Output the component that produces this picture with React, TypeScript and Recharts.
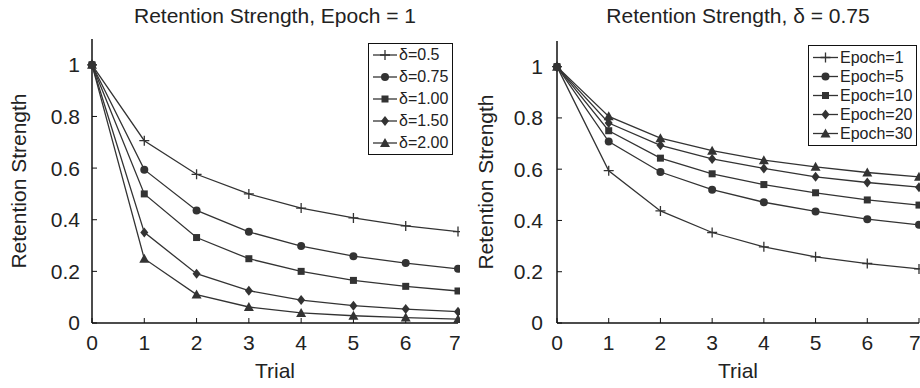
import { Line, LineChart, XAxis, YAxis } from "recharts";

const trials = [0, 1, 2, 3, 4, 5, 6, 7];
const xTicks = [0, 1, 2, 3, 4, 5, 6, 7];
const yTicks = [0, 0.2, 0.4, 0.6, 0.8, 1];
const markerShapes = ["plus", "circle", "square", "diamond", "triangle"];

// left panel: epoch = 1, varying delta
const deltaLabels = ["δ=0.5", "δ=0.75", "δ=1.00", "δ=1.50", "δ=2.00"];
const delta050 = [1, 0.706, 0.576, 0.5, 0.445, 0.407, 0.376, 0.354];
const delta075 = [1, 0.594, 0.436, 0.353, 0.298, 0.259, 0.232, 0.21];
const delta100 = [1, 0.5, 0.331, 0.249, 0.2, 0.165, 0.142, 0.124];
const delta150 = [1, 0.351, 0.191, 0.125, 0.089, 0.067, 0.054, 0.044];
const delta200 = [1, 0.249, 0.11, 0.062, 0.039, 0.028, 0.021, 0.015];

// right panel: delta = 0.75, varying epoch
const epochLabels = ["Epoch=1", "Epoch=5", "Epoch=10", "Epoch=20", "Epoch=30"];
const epoch1 = [1, 0.594, 0.437, 0.353, 0.297, 0.258, 0.232, 0.211];
const epoch5 = [1, 0.708, 0.589, 0.52, 0.471, 0.435, 0.405, 0.383];
const epoch10 = [1, 0.75, 0.643, 0.582, 0.54, 0.508, 0.48, 0.46];
const epoch20 = [1, 0.78, 0.693, 0.64, 0.603, 0.57, 0.548, 0.53];
const epoch30 = [1, 0.806, 0.721, 0.672, 0.635, 0.609, 0.587, 0.57];

const FONT = "'Liberation Sans', Arial, sans-serif";
const INK = "#333";

function buildRows(series: number[][]) {
  return trials.map((t, i) => {
    const row: Record<string, number> = { trial: t };
    series.forEach((s, k) => (row[`s${k}`] = s[i]));
    return row;
  });
}

function Marker({ shape, cx, cy }: { shape: string; cx: number; cy: number }) {
  switch (shape) {
    case "plus":
      return <path d={`M${cx - 5},${cy}H${cx + 5}M${cx},${cy - 5}V${cy + 5}`} stroke={INK} strokeWidth={1.3} fill="none" />;
    case "circle":
      return <circle cx={cx} cy={cy} r={4} fill={INK} />;
    case "square":
      return <rect x={cx - 3.5} y={cy - 3.5} width={7} height={7} fill={INK} />;
    case "diamond":
      return <path d={`M${cx},${cy - 5}L${cx + 4},${cy}L${cx},${cy + 5}L${cx - 4},${cy}Z`} fill={INK} />;
    default:
      return <path d={`M${cx},${cy - 5}L${cx + 5},${cy + 4}L${cx - 5},${cy + 4}Z`} fill={INK} />;
  }
}

type PanelProps = {
  title: string;
  labels: string[];
  series: number[][];
  left: number;
  top: number;
  axisWidth: number;
  right: number;
  yLabelOffset: number;
  yTickMargin: number;
  legend: { left: number; top: number; width: number; row: number; pad: number; sample: number };
};

function Panel({ title, labels, series, left, top, axisWidth, right, yLabelOffset, yTickMargin, legend }: PanelProps) {
  const rows = buildRows(series);
  const plotCenter = axisWidth + (460 - axisWidth - right) / 2;
  return (
    <div style={{ position: "absolute", left, top: 0, width: 460, height: 388, fontFamily: FONT }}>
      <div
        style={{
          position: "absolute",
          top: 5,
          left: plotCenter - 200,
          width: 400,
          textAlign: "center",
          fontSize: 21,
          lineHeight: "21px",
          color: "#222",
        }}
      >
        {title}
      </div>
      <LineChart width={460} height={388} data={rows} margin={{ top, right, bottom: 0, left: 0 }}>
        <XAxis
          dataKey="trial"
          type="number"
          domain={[0, 7]}
          ticks={xTicks}
          height={65}
          tickSize={-5}
          tickMargin={17}
          axisLine={{ stroke: "#111", strokeWidth: 1.5 }}
          tickLine={{ stroke: "#111" }}
          tick={{ fill: "#222", fontSize: 21, fontFamily: FONT }}
          label={{ value: "Trial", position: "insideBottom", offset: 10, fill: "#222", fontSize: 21, fontFamily: FONT }}
        />
        <XAxis
          xAxisId="top"
          orientation="top"
          type="number"
          domain={[0, 7]}
          allowDataOverflow
          ticks={xTicks}
          height={0}
          tickSize={-5}
          axisLine={{ stroke: "#111", strokeWidth: 1.5 }}
          tickLine={{ stroke: "#111" }}
          tick={false}
        />
        <YAxis
          type="number"
          domain={[0, 1.1]}
          allowDataOverflow
          ticks={yTicks}
          width={axisWidth}
          tickSize={-5}
          tickMargin={yTickMargin}
          axisLine={{ stroke: "#111", strokeWidth: 1.5 }}
          tickLine={{ stroke: "#111" }}
          tick={{ fill: "#222", fontSize: 21, fontFamily: FONT }}
          label={{
            value: "Retention Strength",
            angle: -90,
            position: "insideLeft",
            offset: yLabelOffset,
            fill: "#222",
            fontSize: 21,
            fontFamily: FONT,
            style: { textAnchor: "middle" },
          }}
        />
        <YAxis
          yAxisId="right"
          orientation="right"
          type="number"
          domain={[0, 1.1]}
          allowDataOverflow
          ticks={yTicks}
          width={0}
          tickSize={-5}
          axisLine={{ stroke: "#111", strokeWidth: 1.5 }}
          tickLine={{ stroke: "#111" }}
          tick={false}
        />
        {labels.map((name, k) => (
          <Line
            key={name}
            name={name}
            dataKey={`s${k}`}
            type="linear"
            stroke={INK}
            strokeWidth={1.3}
            isAnimationActive={false}
            activeDot={false}
            dot={(p: any) => (
              <g key={`${k}-${p.index}`}>
                <Marker shape={markerShapes[k]} cx={p.cx} cy={p.cy} />
              </g>
            )}
          />
        ))}
      </LineChart>
      <div
        style={{
          position: "absolute",
          left: legend.left,
          top: legend.top,
          width: legend.width,
          boxSizing: "border-box",
          border: "1.5px solid #111",
          background: "#fff",
          padding: `${legend.pad}px 0`,
          fontSize: 16,
          color: "#222",
        }}
      >
        {labels.map((name, k) => (
          <div key={name} style={{ display: "flex", alignItems: "center", height: legend.row, whiteSpace: "nowrap" }}>
            <svg width={legend.sample + 5} height={legend.row} style={{ flex: "none" }}>
              <line x1={4} x2={4 + legend.sample} y1={legend.row / 2} y2={legend.row / 2} stroke={INK} strokeWidth={1.3} />
              <Marker shape={markerShapes[k]} cx={4 + legend.sample / 2} cy={legend.row / 2} />
            </svg>
            <span style={{ marginLeft: 1 }}>{name}</span>
          </div>
        ))}
      </div>
    </div>
  );
}

export default function App() {
  return (
    <div style={{ position: "absolute", left: 0, top: 0, width: 920, height: 388, background: "#fff", overflow: "hidden" }}>
      <Panel
        title="Retention Strength, Epoch = 1"
        labels={deltaLabels}
        series={[delta050, delta075, delta100, delta150, delta200]}
        left={0}
        top={39}
        axisWidth={92}
        right={2}
        yLabelOffset={19}
        yTickMargin={17}
        legend={{ left: 368, top: 43, width: 85, row: 22, pad: 0, sample: 24 }}
      />
      <Panel
        title="Retention Strength, δ = 0.75"
        labels={epochLabels}
        series={[epoch1, epoch5, epoch10, epoch20, epoch30]}
        left={460}
        top={41}
        axisWidth={97}
        right={1}
        yLabelOffset={26}
        yTickMargin={19}
        legend={{ left: 348, top: 45, width: 109, row: 19, pad: 2, sample: 25 }}
      />
    </div>
  );
}
